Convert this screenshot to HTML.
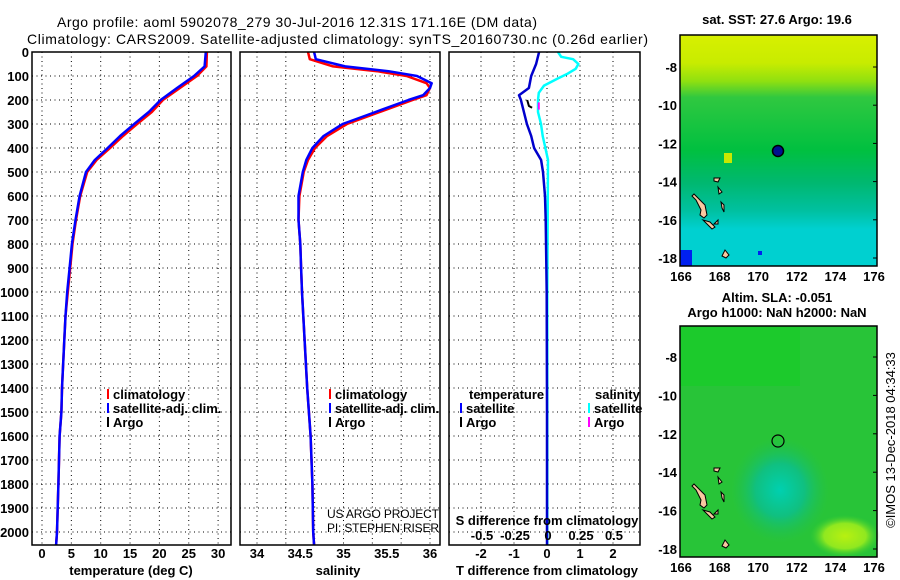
<!DOCTYPE html>
<html><head><meta charset="utf-8">
<style>
html,body{margin:0;padding:0;background:#fff;}
svg{display:block;font-family:"Liberation Sans",sans-serif;}
.t{font-size:14px;fill:#000;}
.lb{font-size:13px;font-weight:bold;fill:#000;}
.rg{font-size:13px;fill:#000;}
</style></head>
<body>
<svg id="fig" width="900" height="580" viewBox="0 0 900 580" xmlns="http://www.w3.org/2000/svg">
<defs>
<linearGradient id="sstg" x1="0" y1="0" x2="0" y2="1">
<stop offset="0" stop-color="#d8f000"/><stop offset="0.12" stop-color="#c8ec00"/>
<stop offset="0.2" stop-color="#90e010"/><stop offset="0.27" stop-color="#30c840"/>
<stop offset="0.5" stop-color="#00c040"/><stop offset="0.64" stop-color="#00b870"/>
<stop offset="0.76" stop-color="#00c0a0"/><stop offset="0.84" stop-color="#00d0d0"/>
<stop offset="1" stop-color="#00d0d0"/></linearGradient>
<radialGradient id="slat" cx="0.5" cy="0.6" r="0.35"><stop offset="0" stop-color="#00d0b0"/><stop offset="0.5" stop-color="#10c080"/><stop offset="1" stop-color="#20c050" stop-opacity="0"/></radialGradient>
<radialGradient id="slay" cx="0.5" cy="0.5" r="0.5"><stop offset="0" stop-color="#b8f010"/><stop offset="0.6" stop-color="#90e820"/><stop offset="1" stop-color="#40d030" stop-opacity="0"/></radialGradient>
<clipPath id="c1"><rect x="32" y="52" width="199" height="493"/></clipPath>
<clipPath id="c2"><rect x="240" y="52" width="200" height="493"/></clipPath>
<clipPath id="c3"><rect x="449" y="52" width="191" height="493"/></clipPath>
</defs>
<text class="t" x="57" y="27" textLength="480">Argo profile: aoml 5902078_279 30-Jul-2016 12.31S 171.16E (DM data)</text>
<text class="t" x="27" y="44" textLength="621">Climatology: CARS2009. Satellite-adjusted climatology: synTS_20160730.nc (0.26d earlier)</text>
<g id="grid"></g>
<g id="marks"></g>
<rect x="32" y="52" width="199" height="493" fill="none" stroke="#000" stroke-width="1.5"/>
<rect x="240" y="52" width="200" height="493" fill="none" stroke="#000" stroke-width="1.5"/>
<rect x="449" y="52" width="191" height="493" fill="none" stroke="#000" stroke-width="1.5"/>
<g id="labels"></g>
<text class="lb" x="131" y="575" text-anchor="middle">temperature (deg C)</text>
<text class="lb" x="338" y="575" text-anchor="middle">salinity</text>
<text class="lb" x="547" y="575" text-anchor="middle">T difference from climatology</text>
<text class="lb" x="547" y="525" text-anchor="middle">S difference from climatology</text>
<text class="rg" x="327" y="518" textLength="112" style="font-size:12px">US ARGO PROJECT</text>
<text class="rg" x="327" y="532" textLength="112" style="font-size:12px">PI: STEPHEN RISER</text>
<g>
<rect x="107" y="389" width="2" height="10" fill="#f00"/><text class="lb" x="113" y="399">climatology</text>
<rect x="107" y="403" width="2" height="10" fill="#00f"/><text class="lb" x="113" y="413">satellite-adj. clim.</text>
<rect x="107" y="417" width="2" height="10" fill="#000"/><text class="lb" x="113" y="427">Argo</text>
</g>
<g>
<rect x="329" y="389" width="2" height="10" fill="#f00"/><text class="lb" x="335" y="399">climatology</text>
<rect x="329" y="403" width="2" height="10" fill="#00f"/><text class="lb" x="335" y="413" textLength="104">satellite-adj. clim.</text>
<rect x="329" y="417" width="2" height="10" fill="#000"/><text class="lb" x="335" y="427">Argo</text>
</g>
<g>
<text class="lb" x="469" y="399">temperature</text>
<rect x="460" y="403" width="2" height="10" fill="#00f"/><text class="lb" x="466" y="413">satellite</text>
<rect x="460" y="417" width="2" height="10" fill="#000"/><text class="lb" x="466" y="427">Argo</text>
<text class="lb" x="595" y="399">salinity</text>
<rect x="588" y="403" width="2" height="10" fill="#0ff"/><text class="lb" x="594" y="413">satellite</text>
<rect x="588" y="417" width="2" height="10" fill="#f0f"/><text class="lb" x="594" y="427">Argo</text>
</g>
<text class="lb" x="777" y="24" text-anchor="middle">sat. SST: 27.6 Argo: 19.6</text>
<g>
<rect x="680" y="35" width="197" height="231" fill="url(#sstg)"/>
<rect x="680" y="250" width="12" height="16" fill="#0020f0"/>
<rect x="758" y="251" width="4" height="4" fill="#0020f0"/>
<rect x="724" y="153" width="8" height="10" fill="#c8e800"/>
<g id="isl1"></g>
<circle cx="778" cy="151" r="5.5" fill="#001090" stroke="#000" stroke-width="1.5"/>
<rect x="680" y="35" width="197" height="231" fill="none" stroke="#000" stroke-width="1.5"/>
</g>
<text class="lb" x="777" y="302" text-anchor="middle">Altim. SLA: -0.051</text>
<text class="lb" x="777" y="317" text-anchor="middle">Argo h1000: NaN h2000: NaN</text>
<g>
<rect x="680" y="326" width="197" height="231" fill="#28c438"/>
<rect x="680" y="326" width="120" height="60" fill="#10d020" opacity="0.5"/>
<rect x="710" y="400" width="140" height="150" fill="url(#slat)"/>
<rect x="810" y="515" width="70" height="42" fill="url(#slay)"/>
<g id="isl2"></g>
<circle cx="778" cy="441" r="6" fill="none" stroke="#000" stroke-width="1.2"/>
<rect x="680" y="326" width="197" height="231" fill="none" stroke="#000" stroke-width="1.5"/>
</g>
<g id="maplabels"></g>
<text class="rg" transform="translate(895,440) rotate(-90)" text-anchor="middle" style="font-size:13px">©IMOS 13-Dec-2018 04:34:33</text>
<script>
const depthT = [0,60,100,150,200,250,300,350,400,450,500,600,700,800,900,1000,1100,1200,1400,1500,1600,1800,2000,2055];
const tempClim = [28.1,28.0,26.4,23.5,20.6,18.7,16.2,13.8,11.6,9.3,7.7,6.5,5.8,5.2,4.8,4.4,4.0,3.8,3.4,3.3,3.0,2.8,2.55,2.4];
const tempSat  = [27.9,27.7,25.9,23.0,20.2,18.2,15.7,13.3,11.2,9.0,7.5,6.4,5.7,5.1,4.7,4.3,4.0,3.8,3.4,3.3,3.0,2.8,2.55,2.4];
const depthS = [0,30,60,80,100,130,150,180,200,250,300,350,400,450,500,600,700,800,900,1000,1100,1200,1400,1600,1800,2000,2055];
const salClim = [34.59,34.61,34.88,35.39,35.73,35.96,36.0,35.96,35.80,35.42,35.04,34.81,34.67,34.59,34.54,34.49,34.48,34.50,34.51,34.52,34.535,34.55,34.58,34.62,34.64,34.65,34.66];
const salSat  = [34.66,34.68,35.02,35.52,35.85,36.02,36.0,35.92,35.75,35.37,34.99,34.77,34.64,34.57,34.53,34.48,34.48,34.50,34.51,34.52,34.535,34.55,34.58,34.62,34.64,34.65,34.66];
const depthD = [0,50,100,150,180,200,250,300,350,400,450,500,600,700,1000,1500,2055];
const tDiff = [-0.24,-0.33,-0.48,-0.55,-0.85,-0.79,-0.70,-0.61,-0.48,-0.39,-0.18,-0.12,-0.06,-0.04,-0.01,0.0,0.0];
const depthSD = [0,20,30,50,70,90,110,140,170,200,250,300,350,400,450,1000,2055];
const sDiff = [0.076,0.10,0.19,0.23,0.21,0.15,0.076,-0.03,-0.07,-0.076,-0.076,-0.053,-0.04,-0.02,0.0,-0.005,-0.005];
const argoTDiffDepth = [200,225,232];
const argoTDiff = [-0.6,-0.55,-0.45];
const argoSDiffDepth = [210,240];
const argoSDiff = [-0.07,-0.07];
const depthTicks = [0,100,200,300,400,500,600,700,800,900,1000,1100,1200,1300,1400,1500,1600,1700,1800,1900,2000];
const tempTicks = [0,5,10,15,20,25,30];
const salTicks = [34,34.5,35,35.5,36];
const tdTicks = [-2,-1,0,1,2];
const sdTicks = [-0.5,-0.25,0,0.25,0.5];
const sdTickLabels = ["-0.5","-0.25","0","0.25","0.5"];
const latTicks = [-8,-10,-12,-14,-16,-18];
const lonTicks = [166,168,170,172,174,176];
const yD = d => 52 + d*0.24;
const xT = t => 42 + t*5.87;
const xS = s => 257 + (s-34)*86.5;
const xTD = v => 547 + v*33;
const xSD = v => 548 + v*132;
const NS = "http://www.w3.org/2000/svg";
function mk(tag, attrs, parent){const e=document.createElementNS(NS,tag);for(const k in attrs)e.setAttribute(k,attrs[k]);parent.appendChild(e);return e;}
const grid = document.getElementById('grid'), marks = document.getElementById('marks'), labels = document.getElementById('labels');
const dot = {stroke:'#000','stroke-width':1,'stroke-dasharray':'1,3.5'};
for (const d of depthTicks){
  for (const [a,b] of [[32,231],[240,440],[449,640]]){
    const l = mk('line', Object.assign({x1:a,x2:b,y1:yD(d),y2:yD(d)},dot), grid);
    
    
  }
  const t = mk('text',{x:29,y:yD(d)+5,'text-anchor':'end',class:'lb'},labels);
  t.textContent = d;
  
  
}
for (const v of tempTicks){
  const l = mk('line',Object.assign({x1:xT(v),x2:xT(v),y1:52,y2:545},dot),grid);
  
  
  const t = mk('text',{x:xT(v),y:558,'text-anchor':'middle',class:'lb'},labels);
  t.textContent = v;
  
  
}
for (let s=34; s<=36.01; s+=1/3){
  const l = mk('line',Object.assign({x1:xS(s),x2:xS(s),y1:52,y2:545},dot),grid);
  
  
}
for (const v of salTicks){
  const t = mk('text',{x:xS(v),y:558,'text-anchor':'middle',class:'lb'},labels);
  t.textContent = v;
  
  
}
for (const v of tdTicks){
  const l = mk('line',Object.assign({x1:xTD(v),x2:xTD(v),y1:52,y2:545},dot),grid);
  
  
  const t = mk('text',{x:xTD(v),y:558,'text-anchor':'middle',class:'lb'},labels);
  t.textContent = v;
  
  
}
sdTicks.forEach((v,i)=>{
  const t = mk('text',{x:xSD(v),y:540,'text-anchor':'middle',class:'lb'},labels);
  t.textContent = sdTickLabels[i];
  
  
});
function line(xs, ds, fx, color, clip, name, w){
  const pts = xs.map((v,i)=>fx(v).toFixed(1)+','+yD(ds[i]).toFixed(1)).join(' ');
  const p = mk('polyline',{points:pts,fill:'none',stroke:color,'stroke-width':w||2.5,'clip-path':'url(#'+clip+')','stroke-linejoin':'round'},marks);
  
  
}
line(tempClim, depthT, xT, '#f00', 'c1', 'temperature-climatology-line');
line(tempSat, depthT, xT, '#00f', 'c1', 'temperature-satellite-line');
line(salClim, depthS, xS, '#f00', 'c2', 'salinity-climatology-line');
line(salSat, depthS, xS, '#00f', 'c2', 'salinity-satellite-line');
line(sDiff, depthSD, xSD, '#0ff', 'c3', 's-difference-satellite-line');
line(tDiff, depthD, xTD, '#00c', 'c3', 't-difference-satellite-line');
line(argoTDiff, argoTDiffDepth, xTD, '#000', 'c3', 'argo-t-difference-mark', 2);
line(argoSDiff, argoSDiffDepth, xSD, '#f0f', 'c3', 'argo-s-difference-mark', 2);
const ml = document.getElementById('maplabels');
const latY1 = la => 67 + (-8-la)*19.1, latY2 = la => 357 + (-8-la)*19.2;
const lonX = lo => 681 + (lo-166)*19.3;
for (const la of latTicks){
  for (const f of [latY1, latY2]){
    const t = mk('text',{x:677,y:f(la)+5,'text-anchor':'end',class:'lb'},ml);
    t.textContent = la;
    
    
    mk('line',{x1:873,x2:877,y1:f(la),y2:f(la),stroke:'#000'},ml);
  }
}
for (const lo of lonTicks){
  for (const y of [281,572]){
    const t = mk('text',{x:lonX(lo),y:y,'text-anchor':'middle',class:'lb'},ml);
    t.textContent = lo;
    
    
  }
}
const isl = [[[692,196],[696,200],[701,210],[700,215],[704,218],[707,215],[705,205],[700,200],[694,194]],
 [[703,220],[709,226],[712,229],[715,227],[710,222]],[[721,202],[724,205],[724,212],[722,208]],
 [[714,224],[718,224],[718,220]],[[718,187],[722,192],[719,194]],[[714,178],[720,178],[718,182],[714,181]],
 [[722,256],[726,258],[729,255],[725,250]]];
for (const [id,dy] of [['isl1',0],['isl2',290]]){
  const g = document.getElementById(id);
  for (const s of isl){
    const p = mk('polygon',{points:s.map(q=>q[0]+','+(q[1]+dy)).join(' '),fill:'#f8c8a0',stroke:'#000','stroke-width':1},g);
    
    
  }
}
</script>
</svg>
</body></html>
